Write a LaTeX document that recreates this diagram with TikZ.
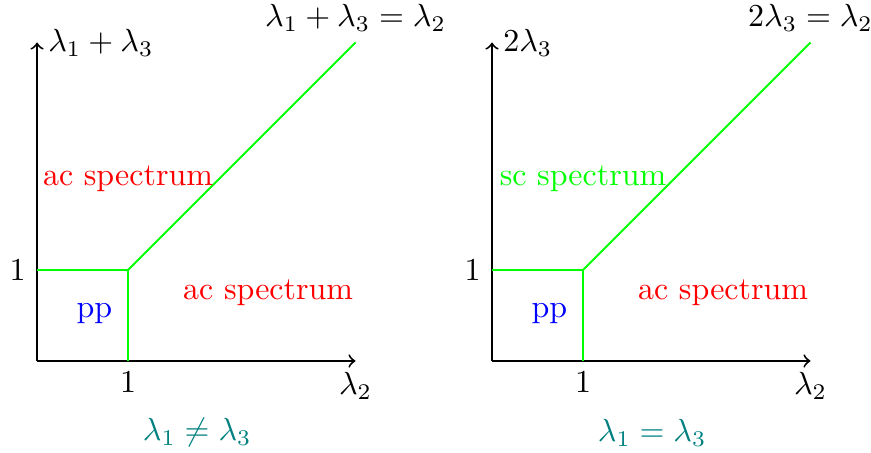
\documentclass[tikz,border=0pt]{standalone}
\usepackage{amsmath,amssymb}
\usepackage{tikz}
\usetikzlibrary{positioning,arrows.meta}
\usepackage{xcolor}

\begin{document}
\begin{tikzpicture}[>=to,
    axis/.style={->, semithick},
    bound/.style={green, semithick}]
  \useasboundingbox (-0.407,-1.011) rectangle (9.165,3.967);

  % left: lambda_1 /= lambda_3
  \coordinate (oL) at (0,0);
  \coordinate (xL) at (3.5,0);
  \coordinate (yL) at (0,3.5);
  \coordinate (cL) at (1,1);
  \coordinate (aL) at (1,0);
  \coordinate (bL) at (0,1);
  \coordinate (tL) at (3.5,3.5);
  \draw[axis] (oL) -- (xL);
  \draw[axis] (oL) -- (yL);
  \draw[bound] (bL) -- (cL) -- (aL);
  \draw[bound] (cL) -- (tL);
  \node[right] (ylabL) at (yL) {$\lambda_1+\lambda_3$};
  \node[below] (xlabL) at (xL) {$\lambda_2$};
  \node[above] (lineL) at (tL) {$\lambda_1+\lambda_3=\lambda_2$};
  \node[below] (onexL) at (aL) {$1$};
  \node[left] (oneyL) at (bL) {$1$};
  \node[red] (acaL) at (1,2) {ac spectrum};
  \node[red] (acbL) at (2.54,0.75) {ac spectrum};
  \node[blue] (ppL) at (0.63,0.52) {pp};
  \node[teal] (capL) at (1.76,-0.79) {$\lambda_1\neq\lambda_3$};

  % right: lambda_1 = lambda_3
  \coordinate (oR) at (5,0);
  \coordinate (xR) at (8.5,0);
  \coordinate (yR) at (5,3.5);
  \coordinate (cR) at (6,1);
  \coordinate (aR) at (6,0);
  \coordinate (bR) at (5,1);
  \coordinate (tR) at (8.5,3.5);
  \draw[axis] (oR) -- (xR);
  \draw[axis] (oR) -- (yR);
  \draw[bound] (bR) -- (cR) -- (aR);
  \draw[bound] (cR) -- (tR);
  \node[right] (ylabR) at (yR) {$2\lambda_3$};
  \node[below] (xlabR) at (xR) {$\lambda_2$};
  \node[above] (lineR) at (tR) {$2\lambda_3=\lambda_2$};
  \node[below] (onexR) at (aR) {$1$};
  \node[left] (oneyR) at (bR) {$1$};
  \node[green] (scR) at (6,2) {sc spectrum};
  \node[red] (acR) at (7.54,0.75) {ac spectrum};
  \node[blue] (ppR) at (5.63,0.52) {pp};
  \node[teal] (capR) at (6.76,-0.79) {$\lambda_1=\lambda_3$};
\end{tikzpicture}
\end{document}
